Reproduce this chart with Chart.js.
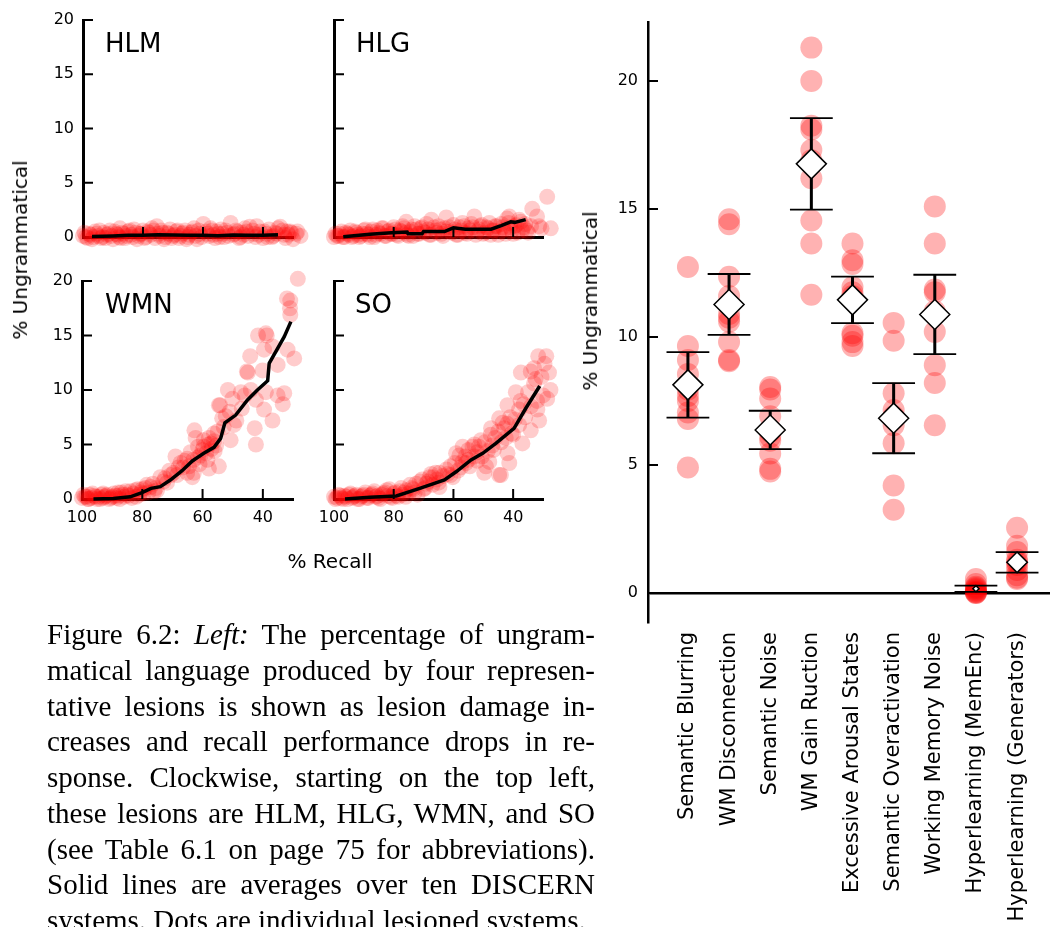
<!DOCTYPE html>
<html>
<head>
<meta charset="utf-8">
<script src="https://cdn.jsdelivr.net/npm/chart.js@4.4.1/dist/chart.umd.min.js"></script>
<style>
  body { margin: 0; background: #fff; }
  #page { position: relative; width: 1050px; height: 927px; overflow: hidden; font-family: "DejaVu Sans", sans-serif; color: #000; }
  canvas { position: absolute; }
  .lbl { position: absolute; white-space: nowrap; line-height: 1; }
  .panel { font-size: 26px; }
  .axlab { font-size: 20px; transform: translate(-50%, -50%); }
  .vlab { font-size: 20px; transform: translate(-50%, -50%) rotate(-90deg); }
  .cap { position: absolute; left: 47px; top: 617px; width: 548px; font-family: "Liberation Serif", serif; font-size: 29px; line-height: 35.75px; }
  .cap div { text-align: justify; text-align-last: justify; white-space: nowrap; }
  .cap div.last { text-align-last: left; }
</style>
</head>
<body>
<div id="page">
  <canvas id="hlm" width="330" height="260" style="left:0;top:0"></canvas>
  <canvas id="hlg" width="290" height="260" style="left:300px;top:0"></canvas>
  <canvas id="wmn" width="330" height="290" style="left:0;top:260px"></canvas>
  <canvas id="so" width="290" height="290" style="left:300px;top:260px"></canvas>
  <canvas id="right" width="490" height="927" style="left:560px;top:0"></canvas>

  <div class="lbl panel" style="left:105px;top:30px">HLM</div>
  <div class="lbl panel" style="left:356px;top:30px">HLG</div>
  <div class="lbl panel" style="left:105px;top:291px">WMN</div>
  <div class="lbl panel" style="left:355px;top:291px">SO</div>
  <div class="lbl vlab" style="left:20px;top:250px">% Ungrammatical</div>
  <div class="lbl axlab" style="left:330px;top:561px">% Recall</div>
  <div class="lbl vlab" style="left:590px;top:301px">% Ungrammatical</div>

  <div class="cap">
    <div>Figure 6.2: <i>Left:</i> The percentage of ungram-</div>
    <div>matical language produced by four represen-</div>
    <div>tative lesions is shown as lesion damage in-</div>
    <div>creases and recall performance drops in re-</div>
    <div>sponse. Clockwise, starting on the top left,</div>
    <div>these lesions are HLM, HLG, WMN, and SO</div>
    <div>(see Table 6.1 on page 75 for abbreviations).</div>
    <div>Solid lines are averages over ten DISCERN</div>
    <div class="last">systems. Dots are individual lesioned systems.</div>
  </div>
</div>
<script>
// small panels: [recall, % ungrammatical]
const smallYTicks = [0, 5, 10, 15, 20];
const smallXTicks = [100, 80, 60, 40];

const hlmLine = [[97,0.05],[90,0.1],[85,0.15],[80,0.15],[75,0.2],[70,0.18],[65,0.15],[60,0.15],[55,0.12],[50,0.18],[45,0.15],[40,0.15],[35,0.2]];
const hlmDots = [[99,0],[98,0.3],[97,-0.2],[96,0.5],[95,0.1],[94,-0.1],[93,0.4],[92,0.2],[91,0.6],[90,-0.2],[89,0.3],[88,0],[87.7,0.8],[87,0.4],[86,-0.1],[85,0.5],[84,0.2],[83,0.7],[82,-0.2],[81,0.3],[80,0.6],[79,0],[78,0.4],[77,0.8],[76,-0.1],[75.4,1.0],[75,0.3],[74,0.6],[73,-0.2],[72,0.4],[71,0.7],[70,0.1],[69,0.5],[68,-0.1],[67,0.3],[66,0.6],[65,0],[64,0.4],[63,0.8],[62,-0.2],[61,0.3],[59.9,1.2],[59,0.5],[58,0.1],[57,0.6],[56,-0.1],[55,0.3],[54,0.7],[53,0],[52,0.4],[50.8,1.3],[50,0.2],[49,0.6],[48,-0.1],[47,0.4],[46,0.8],[45,0.1],[44.4,0.95],[43,0.3],[42.1,1.0],[41,0.5],[40,-0.1],[39,0.3],[38,0.7],[37,0],[36,0.4],[35,0.8],[34.3,0.95],[33,0.2],[32,0.5],[31,0.5],[30,-0.2],[29,0.3],[27.5,0.1],[25.4,0.2],[25.4,-0.3],[26,-0.55],[21,0],
  [100,0.1],[99.5,0.4],[98.5,-0.1],[97.5,0.2],[96.5,0],[95.5,0.3],[94.5,0.6],[93.5,0],[92.5,-0.1],[91.5,0.3],[90.5,0.1],[89.5,0.5],[88.5,0.2],[87.5,-0.1],[86.5,0.3],[85.5,0.1],[84.5,0.6],[83.5,0],[82.5,0.4],[81.5,0.1],[80.5,0.3],[79.5,-0.1],[78.5,0.5],[77.5,0.2],[76.5,0.6],[74.5,0.1],[73.5,0.4],[72.5,0],[71.5,0.3],[70.5,-0.1],[69.5,0.2],[68.5,0.6],[67.5,0.1],[66.5,0.4],[65.5,-0.2],[64.5,0.2],[63.5,0.5],[62.5,0.1],[61.5,0.6],[60.5,0],[58.5,0.3],[57.5,0.8],[56.5,0.2],[55.5,0.5],[54.5,0],[53.5,0.3],[52.5,0.6],[51.5,0.1],[49.5,0.3],[48.5,0.5],[47.5,0],[46.5,0.2],[45.5,0.5],[43.5,0.6],[42.5,0],[41.5,0.2],[39.5,0.5],[38.5,0],[36.5,0.1],[35.5,0.3],[33.5,0.6],[32.5,-0.1],[31.5,0.2],[30.5,0.4],[28.5,0.5],[27,0.3],[24,0.1]];

const hlgLine = [[96.9,0.03],[88,0.25],[80.8,0.4],[75.5,0.45],[75.2,0.3],[70.5,0.3],[70,0.5],[63,0.5],[60,0.85],[56,0.72],[47.4,0.72],[44,1.05],[40.8,1.4],[39.5,1.35],[35.8,1.6]];
const hlgDots = [[99,0.1],[98,0.3],[97,0],[96,0.4],[95,0.2],[94,0],[93,0.5],[92,0.2],[91,0.1],[90,0.6],[89,0.3],[88,0],[87,0.7],[86,0.2],[85,0.4],[84,0.8],[83,0.1],[82,0.5],[81,0.3],[80,0.9],[79,0.2],[78,0.6],[77,1.0],[76,0.4],[75.8,1.4],[75,0.1],[74,0.7],[73,1.0],[72,0.3],[71,0.8],[70,0.5],[69,1.2],[68,0.2],[67.4,1.6],[66,0.6],[65,1.0],[64,0.3],[63,0.8],[62.4,1.8],[61,0.5],[60,1.1],[59,0.2],[58,0.9],[57,1.3],[56,0.4],[55,0.8],[54,1.2],[53,1.9],[52,0.5],[51,1.0],[50,0.3],[49,0.9],[48,1.3],[47,0.6],[46,1.0],[45,0.2],[44,1.2],[43,0.7],[42,1.7],[41.3,1.9],[41,0.9],[40,0.3],[39,1.1],[38,1.6],[37,0.6],[36,1.2],[35,0.4],[34,1.0],[33.6,2.6],[32,1.9],[31.3,1.0],[30.5,0.8],[28.6,3.7],[27.4,0.8],[26.3,1.4],[25.8,1.4],[22.4,1.5],
  [100,0],[99.5,0.3],[98.5,0.1],[97.5,0.5],[96.5,0],[95.5,0.3],[94.5,0.6],[93.5,0.1],[92.5,0.4],[91.5,0],[90.5,0.3],[89.5,0.7],[88.5,0.2],[87.5,0.5],[86.5,0],[85.5,0.6],[84.5,0.3],[83.5,0.8],[82.5,0.1],[81.5,0.6],[80.5,0.3],[79.5,0.7],[78.5,0.1],[77.5,0.5],[76.5,0.8],[75.5,0.2],[74.5,0.5],[73.5,0.1],[72.5,0.7],[71.5,0.3],[70.5,0.9],[69.5,0.4],[68.5,0.7],[67.5,0.2],[66.5,0.9],[65.5,0.4],[64.5,0.7],[63.5,0.1],[62.5,0.5],[61.5,0.9],[60.5,0.4],[59.5,0.7],[58.5,0.2],[57.5,0.6],[56.5,1.0],[55.5,0.3],[54.5,0.6],[53.5,0.9],[52.5,0.2],[51.5,0.7],[50.5,1.1],[49.5,0.4],[48.5,0.8],[47.5,0.2],[46.5,0.6],[45.5,1.0],[44.5,0.5],[43.5,0.9],[42.5,0.3],[41.5,1.3],[40.5,0.6],[39.5,1.0],[38.5,0.4],[37.5,1.4],[36.5,0.9],[35.5,0.6]];

const wmnLine = [[96.2,0],[89.6,0.05],[84,0.2],[80.1,0.58],[77.1,0.98],[74,1.13],[70.7,1.74],[66.8,2.6],[63.4,3.49],[59.6,4.19],[56.2,4.74],[54,5.56],[52.6,7.0],[49,7.7],[45.1,9.08],[41.8,10.0],[38.4,10.85],[37.9,12.45],[32.9,14.89],[30.7,16.27]];
const wmnDots = [[99,0.2],[98,0],[97.5,0.4],[97,0.1],[96,0.3],[95,0],[94.5,0.2],[93.5,0.4],[93,0.1],[92,0.3],[91,0],[90,0.2],[89.5,0.5],[88.5,0.1],[88,0.3],[87,0.6],[86,0.2],[85,0.4],[84,0.7],[83.5,0.1],[82.3,0.8],[81,0.4],[80,0.9],[79.6,0.5],[78.5,1.3],[77.3,1.1],[76,0.7],[75.1,0.8],[74,2.0],[73,1.6],[71.8,1.5],[70.5,2.2],[69.6,2.4],[69,3.9],[68,2.9],[67.3,3.3],[66,3.5],[65.1,2.4],[65.1,3.7],[64,4.3],[63.4,2.0],[62.9,2.4],[62.7,6.3],[62.3,5.6],[61.5,4.8],[61,3.2],[60.7,4.0],[59.6,4.8],[59.6,5.4],[58.4,3.6],[58,5.0],[57.9,5.6],[57.9,2.8],[57,4.6],[56.2,5.3],[56.2,6.0],[55.5,4.9],[55,6.2],[54.6,8.6],[54.6,3.0],[54.2,8.6],[53.5,7.4],[53,6.6],[52.3,7.6],[51.6,10.0],[51,8.0],[50.7,5.4],[50.1,9.2],[49.6,6.8],[48.8,7.2],[47.3,9.8],[47,8.3],[46,9.5],[45.3,11.7],[45,11.6],[44.2,13.1],[44,10.0],[42.7,6.5],[42.3,9.1],[42.3,5.0],[41.6,15.0],[40.1,11.8],[39.6,13.7],[39.6,8.2],[39,15.2],[39,9.8],[38.7,15.0],[36.8,14.0],[36.8,7.2],[35.1,12.3],[35.1,9.5],[33.4,8.7],[32.9,9.7],[32,18.4],[31.8,13.7],[31,17.5],[30.9,18.2],[30.9,16.9],[29.6,12.9],[28.4,20.2],[27.1,10.7],[26,14.6],[25.3,16.7],
  [100,0.1],[99.5,0.4],[98.5,0.2],[97.8,0],[96.5,0.5],[95.5,0.2],[94,0],[93,0.5],[92.5,0.2],[91.5,0.4],[90.5,0.1],[89,0.3],[88,0.6],[87.5,0],[86.5,0.4],[85.5,0.7],[84.5,0.3],[83,0.5],[82,0.2],[81.5,0.9],[80.5,0.6],[79,1.0],[78,0.6],[76.5,1.4],[75.5,1.0],[72.5,1.9],[71,2.6],[68.5,2.2],[66.5,2.9],[64.5,3.0],[63,3.6],[61.5,3.8],[60,4.5],[58.8,4.2],[57.2,5.1],[56,4.4]];

const soLine = [[96.3,0],[88,0.15],[79.1,0.28],[71.3,0.98],[63,1.74],[59.1,2.5],[54.1,3.58],[50.2,4.19],[45.8,5.1],[39.7,6.48],[35.8,8.3],[31.1,10.37]];
const soDots = [[99,0.1],[98,0.3],[97,0],[96,0.2],[95,0.4],[94,0.1],[93,0.3],[92,0],[91,0.2],[90,0.4],[89,0.1],[88,0.3],[87,0.5],[86,0.2],[85,0.1],[84,0.4],[83,0.6],[82.4,0.8],[81,0.2],[80,0.5],[79,0.3],[78,0.7],[77,0.4],[75.8,0.8],[75,0.5],[74,1.0],[73,0.6],[71.3,1.6],[70,0.9],[69.1,1.4],[68,2.0],[67,1.3],[66.9,2.0],[65.5,1.8],[64.7,2.4],[64.7,1.1],[63.5,2.1],[62.4,2.7],[61,2.2],[60.2,2.0],[59.1,4.2],[58,4.0],[57.5,2.9],[56.9,4.8],[55.8,3.3],[55,3.6],[53.6,4.8],[53,3.9],[52,4.3],[50.8,5.4],[50.5,3.9],[49.7,2.4],[49.1,3.0],[48,3.4],[47.4,6.5],[47,4.9],[46,5.6],[44.7,7.4],[44.7,2.2],[44.1,2.2],[43,6.5],[42.5,5.6],[41.9,8.6],[41.9,4.2],[41.3,3.3],[40.5,6.0],[39.1,9.8],[38,8.2],[38,6.8],[37.4,11.6],[36.9,5.1],[36,7.5],[34.1,11.7],[34.1,6.3],[33,10.6],[32,9.0],[31.9,8.2],[31.6,13.1],[31.3,7.2],[30,9.5],[28.9,13.1],[28.6,9.2],[27.5,10.0],[26.3,10.9],[26,13.3],[24.7,12.1],
  [100,0.2],[99.5,0],[98.5,0.4],[97.5,0.1],[96.5,0.3],[95.5,0],[94.5,0.5],[93.5,0.2],[92.5,0.4],[91.5,0],[90.5,0.3],[89.5,0.6],[88.5,0.1],[87.5,0.4],[86.5,0.7],[85.5,0.3],[84.5,0],[83.5,0.5],[82,0.3],[81.5,0.9],[80.5,0.1],[79.5,0.6],[78.5,0.2],[77.5,1.0],[76.5,0.6],[76,0.2],[74.5,1.3],[73.5,0.9],[72.5,1.4],[72,0.4],[70.5,1.8],[69.5,1.0],[68.5,1.6],[67.5,2.3],[66,2.4],[65,1.5],[62,2.3],[61,3.0],[59.5,3.3],[58.5,2.6],[57,3.4],[56,3.9],[55,4.5],[54.5,3.0],[53,5.0],[52,3.5],[51.5,4.8],[49.5,5.2],[48.5,4.4],[47.5,5.9],[46.5,4.5],[45,6.2],[44,5.2],[43.5,7.0],[42,6.9],[41,7.5],[40,5.9],[39.5,7.3],[37.5,9.0],[36.5,8.7],[35,9.8],[34,8.5],[33,12.0],[32.5,11.0],[30.5,11.2],[29.5,12.4],[28,11.6],[27,12.7],[26.5,11.0],[25,13.2]];

// right panel
const categories = ['Semantic Blurring', 'WM Disconnection', 'Semantic Noise', 'WM Gain Ruction', 'Excessive Arousal States', 'Semantic Overactivation', 'Working Memory Noise', 'Hyperlearning (MemEnc)', 'Hyperlearning (Generators)'];
const catMean = [8.13, 11.27, 6.37, 16.76, 11.45, 6.83, 10.88, 0.17, 1.2];
const catErr = [1.28, 1.19, 0.75, 1.79, 0.91, 1.37, 1.55, 0.12, 0.4];
const catDots = [
  [12.73, 9.65, 9.1, 8.55, 7.95, 7.7, 7.5, 7.05, 6.8, 4.9],
  [14.6, 14.4, 12.35, 11.6, 10.9, 10.75, 10.6, 9.8, 9.1, 9.05],
  [8.05, 7.95, 7.6, 6.9, 6.3, 6.1, 5.95, 5.45, 4.85, 4.75],
  [21.3, 20.0, 18.25, 18.1, 17.3, 16.9, 16.2, 14.55, 13.65, 11.65],
  [13.65, 13.0, 12.85, 11.95, 11.75, 11.6, 10.15, 9.8, 9.65, 10.05],
  [10.55, 9.85, 7.8, 7.15, 6.9, 6.8, 6.55, 5.85, 4.2, 3.25],
  [15.1, 13.65, 11.85, 11.75, 11.0, 10.9, 10.2, 8.9, 8.2, 6.55],
  [0.55, 0.35, 0.25, 0.2, 0.15, 0.1, 0.05, 0.03, 0.0, 0.0],
  [2.55, 1.85, 1.6, 1.3, 1.2, 1.1, 0.9, 0.7, 0.6, 0.55]
];
const rightYTicks = [0, 5, 10, 15, 20];

Chart.defaults.font.family = 'DejaVu Sans';
Chart.defaults.color = '#000';

// tick marks pointing into the plot area
const innerTicks = {
  id: 'innerTicks',
  afterDatasetsDraw(chart, args, opts) {
    const {ctx, chartArea: a, scales} = chart;
    ctx.save();
    ctx.strokeStyle = '#000';
    ctx.lineWidth = opts.width || 2;
    ctx.beginPath();
    (opts.x || []).forEach(v => {
      const px = scales.x.getPixelForValue(v);
      ctx.moveTo(px, a.bottom);
      ctx.lineTo(px, a.bottom - opts.len);
    });
    (opts.y || []).forEach(v => {
      const py = scales.y.getPixelForValue(v);
      ctx.moveTo(a.left, py);
      ctx.lineTo(a.left + opts.len, py);
    });
    ctx.stroke();
    ctx.restore();
  }
};
Chart.register(innerTicks);

const toXY = arr => arr.map(p => ({x: p[0], y: p[1]}));

function smallPanel(id, line, dots, o) {
  new Chart(document.getElementById(id), {
    type: 'scatter',
    data: {
      datasets: [
        {type: 'line', data: toXY(line), borderColor: '#000', borderWidth: 3.5, pointRadius: 0, clip: false, order: 1},
        {data: toXY(dots), backgroundColor: 'rgba(255,0,0,0.2)', borderWidth: 0, pointRadius: 8, clip: false, order: 2}
      ]
    },
    options: {
      responsive: false,
      animation: false,
      events: [],
      layout: {autoPadding: false, padding: {top: o.top, right: o.right, left: 0, bottom: 0}},
      plugins: {
        legend: {display: false},
        tooltip: {enabled: false},
        innerTicks: {x: [80, 60, 40], y: [5, 10, 15, 20], len: 10, width: 2}
      },
      scales: {
        x: {
          type: 'linear', min: 30, max: 100, reverse: true,
          afterBuildTicks: s => { s.ticks = smallXTicks.map(v => ({value: v})); },
          afterFit: s => { s.height = o.xh; },
          grid: {drawOnChartArea: false, drawTicks: false, color: 'rgba(0,0,0,0)'},
          border: {color: '#000', width: 3},
          ticks: {display: o.xLabels, padding: 9, font: {size: 16}, maxRotation: 0, autoSkip: false}
        },
        y: {
          min: 0, max: 20,
          afterBuildTicks: s => { s.ticks = smallYTicks.map(v => ({value: v})); },
          afterFit: s => { s.width = o.yw; },
          grid: {drawOnChartArea: false, drawTicks: false, color: 'rgba(0,0,0,0)'},
          border: {color: '#000', width: 3},
          ticks: {display: o.yLabels, padding: 9, font: {size: 16}}
        }
      }
    }
  });
}

smallPanel('hlm', hlmLine, hlmDots, {top: 20, right: 37, xh: 23, yw: 83, xLabels: false, yLabels: true});
smallPanel('hlg', hlgLine, hlgDots, {top: 20, right: 47, xh: 23, yw: 34, xLabels: false, yLabels: false});
smallPanel('wmn', wmnLine, wmnDots, {top: 21, right: 37, xh: 51, yw: 82, xLabels: true, yLabels: true});
smallPanel('so', soLine, soDots, {top: 21, right: 47, xh: 51, yw: 34, xLabels: true, yLabels: false});

// right panel datasets built from the arrays above
const dotPts = [];
catDots.forEach((vals, i) => vals.forEach(v => dotPts.push({x: i, y: v})));
const barPts = [];
const capPts = [];
catMean.forEach((m, i) => {
  const lo = m - catErr[i], hi = m + catErr[i];
  barPts.push({x: i, y: lo}, {x: i, y: hi}, {x: i, y: null});
  capPts.push({x: i - 0.52, y: hi}, {x: i + 0.52, y: hi}, {x: i, y: null},
              {x: i - 0.52, y: lo}, {x: i + 0.52, y: lo}, {x: i, y: null});
});

new Chart(document.getElementById('right'), {
  type: 'scatter',
  data: {
    datasets: [
      {
        data: catMean.map((m, i) => ({x: i, y: m})),
        pointStyle: 'rectRot',
        pointRadius: ctx => {
          const y = ctx.chart.scales.y;
          const i = ctx.dataIndex;
          if (!y) return 15;
          const span = Math.abs(y.getPixelForValue(catMean[i] + catErr[i]) - y.getPixelForValue(catMean[i] - catErr[i]));
          return Math.min(15, span / 2);
        },
        backgroundColor: '#fff', borderColor: '#000', borderWidth: 1.5, order: 1
      },
      {type: 'line', data: barPts, borderColor: '#000', borderWidth: 3, pointRadius: 0, spanGaps: false, order: 2},
      {type: 'line', data: capPts, borderColor: '#000', borderWidth: 1.8, pointRadius: 0, spanGaps: false, order: 2},
      {data: dotPts, backgroundColor: 'rgba(255,0,0,0.3)', borderWidth: 0, pointRadius: 11, order: 3}
    ]
  },
  options: {
    responsive: false,
    animation: false,
    events: [],
    layout: {autoPadding: false, padding: {top: 22, right: 0, left: 0, bottom: 0}},
    plugins: {
      legend: {display: false},
      tooltip: {enabled: false},
      innerTicks: {y: rightYTicks, len: 10, width: 2}
    },
    scales: {
      x: {
        type: 'linear', min: -0.97, max: 8.8,
        afterBuildTicks: s => { s.ticks = categories.map((c, i) => ({value: i})); },
        afterFit: s => { s.height = 305; s.paddingLeft = 0; s.paddingRight = 0; },
        grid: {drawOnChartArea: false, drawTicks: false, color: 'rgba(0,0,0,0)'},
        border: {display: false},
        ticks: {callback: v => categories[v], minRotation: 90, maxRotation: 90, autoSkip: false, padding: 10, font: {size: 21}}
      },
      y: {
        min: -1.13, max: 22.3,
        afterBuildTicks: s => { s.ticks = rightYTicks.map(v => ({value: v})); },
        afterFit: s => { s.width = 88; },
        grid: {
          drawTicks: false,
          color: c => (c.tick && c.tick.value === 0) ? '#000' : 'rgba(0,0,0,0)',
          lineWidth: c => (c.tick && c.tick.value === 0) ? 2.5 : 0
        },
        border: {color: '#000', width: 2.5},
        ticks: {padding: 10, font: {size: 16}}
      }
    }
  }
});
</script>
</body>
</html>
